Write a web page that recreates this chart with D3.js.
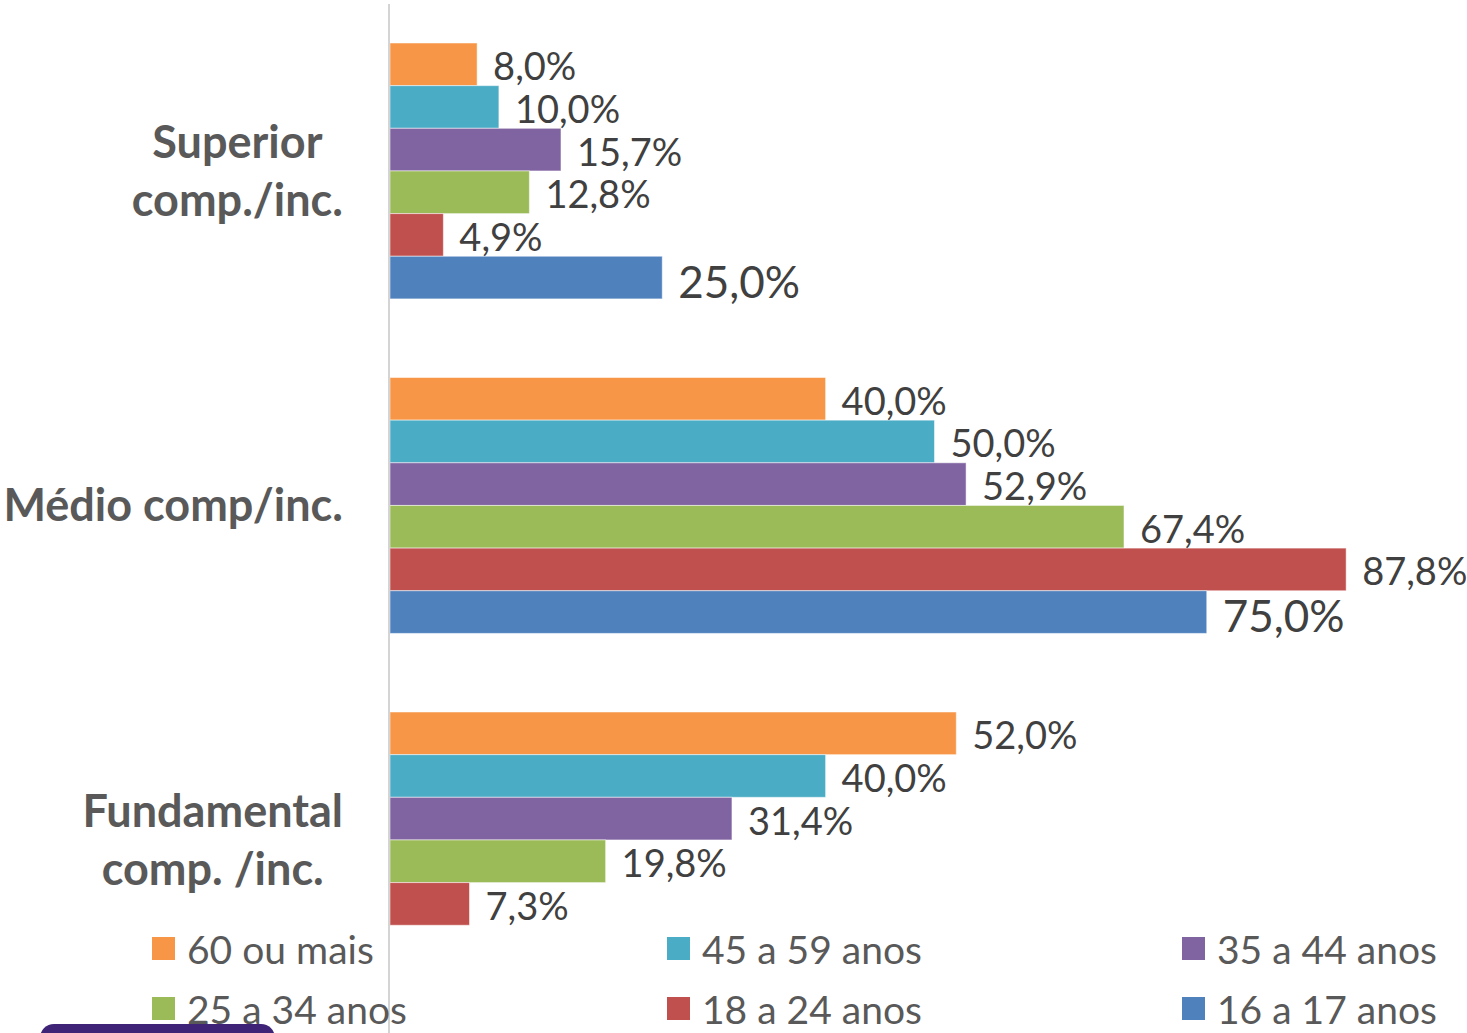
<!DOCTYPE html>
<html>
<head>
<meta charset="utf-8">
<script src="https://cdn.jsdelivr.net/npm/d3@7"></script>
<style>
  html, body { margin: 0; padding: 0; background: #fff; }
  svg { display: block; }
</style>
</head>
<body>
<svg id="chart" width="1467" height="1033"></svg>
<script>
const categories = [
  ["Superior", "comp./inc."],
  ["Médio comp/inc."],
  ["Fundamental", "comp. /inc."]
];
const categoryKeys = ["Superior", "Medio", "Fundamental"];
const seriesNames = ["60 ou mais", "45 a 59 anos", "35 a 44 anos", "25 a 34 anos", "18 a 24 anos", "16 a 17 anos"];
const seriesColors = ["#F79646", "#4BACC6", "#8064A2", "#9BBB59", "#C0504D", "#4F81BD"];
const valuesSuperior = [8.0, 10.0, 15.7, 12.8, 4.9, 25.0];
const valuesMedio = [40.0, 50.0, 52.9, 67.4, 87.8, 75.0];
const valuesFundamental = [52.0, 40.0, 31.4, 19.8, 7.3, null];
const values = [valuesSuperior, valuesMedio, valuesFundamental];
const bigLabelSeries = "16 a 17 anos";

const svg = d3.select("#chart");
const FONT = "Lato, 'Open Sans', sans-serif";

const x = d3.scaleLinear().domain([0, 100]).range([390, 1479]);
const y0 = d3.scaleBand().domain(categoryKeys).range([3.7, 1007.2]).paddingInner(0.235).paddingOuter(0.1175);
const y1 = d3.scaleBand().domain(seriesNames).range([0, y0.bandwidth()]);
const fmt = v => v.toFixed(1).replace(".", ",") + "%";

// decorative shape at bottom-left
svg.append("rect").attr("x", 40).attr("y", 1024).attr("width", 235).attr("height", 40)
  .attr("rx", 14).attr("fill", "#3f2377");

// bars
categoryKeys.forEach((ck, ci) => {
  const g = svg.append("g").attr("transform", `translate(0,${y0(ck)})`);
  seriesNames.forEach((s, si) => {
    const v = values[ci][si];
    if (v == null) return;
    g.append("rect")
      .attr("x", x(0)).attr("y", y1(s))
      .attr("width", x(v) - x(0)).attr("height", y1.bandwidth())
      .attr("fill", seriesColors[si])
      .attr("stroke", "rgba(255,255,255,0.5)").attr("stroke-width", 1);
  });
  seriesNames.forEach((s, si) => {
    const v = values[ci][si];
    if (v == null) return;
    const big = s === bigLabelSeries;
    g.append("text")
      .attr("x", x(v) + 16)
      .attr("y", y1(s) + y1.bandwidth() / 2 + (big ? 3 : 1))
      .attr("dominant-baseline", "central")
      .attr("font-family", FONT)
      .attr("font-size", big ? 44 : 38)
      .attr("fill", "#404040")
      .text(fmt(v));
  });
});

// axis line
svg.append("line").attr("x1", 389).attr("x2", 389).attr("y1", 4).attr("y2", 1033)
  .attr("stroke", "#d4d4d4").attr("stroke-width", 2);

// category labels
categoryKeys.forEach((ck, ci) => {
  const lines = categories[ci];
  const cy = y0(ck) + y0.bandwidth() / 2;
  const lh = 58;
  const g = svg.append("g");
  const texts = lines.map((ln, li) => g.append("text")
    .attr("y", cy - 1 + (li - (lines.length - 1) / 2) * lh)
    .attr("dominant-baseline", "central")
    .attr("text-anchor", "middle")
    .attr("font-family", FONT)
    .attr("font-weight", "bold")
    .attr("font-size", 45)
    .attr("fill", "#595959")
    .text(ln));
  const maxW = d3.max(texts, t => t.node().getComputedTextLength());
  texts.forEach(t => t.attr("x", 343 - maxW / 2));
});

// legend
const legend = svg.append("g");
seriesNames.forEach((s, i) => {
  const col = i % 3, row = Math.floor(i / 3);
  const lx = 152 + col * 515, ly = 949 + row * 60;
  legend.append("rect").attr("x", lx).attr("y", ly - 12).attr("width", 23).attr("height", 23)
    .attr("fill", seriesColors[i]);
  legend.append("text").attr("x", lx + 35).attr("y", ly)
    .attr("dominant-baseline", "central")
    .attr("font-family", FONT).attr("font-size", 39).attr("fill", "#595959")
    .text(s);
});
</script>
</body>
</html>
